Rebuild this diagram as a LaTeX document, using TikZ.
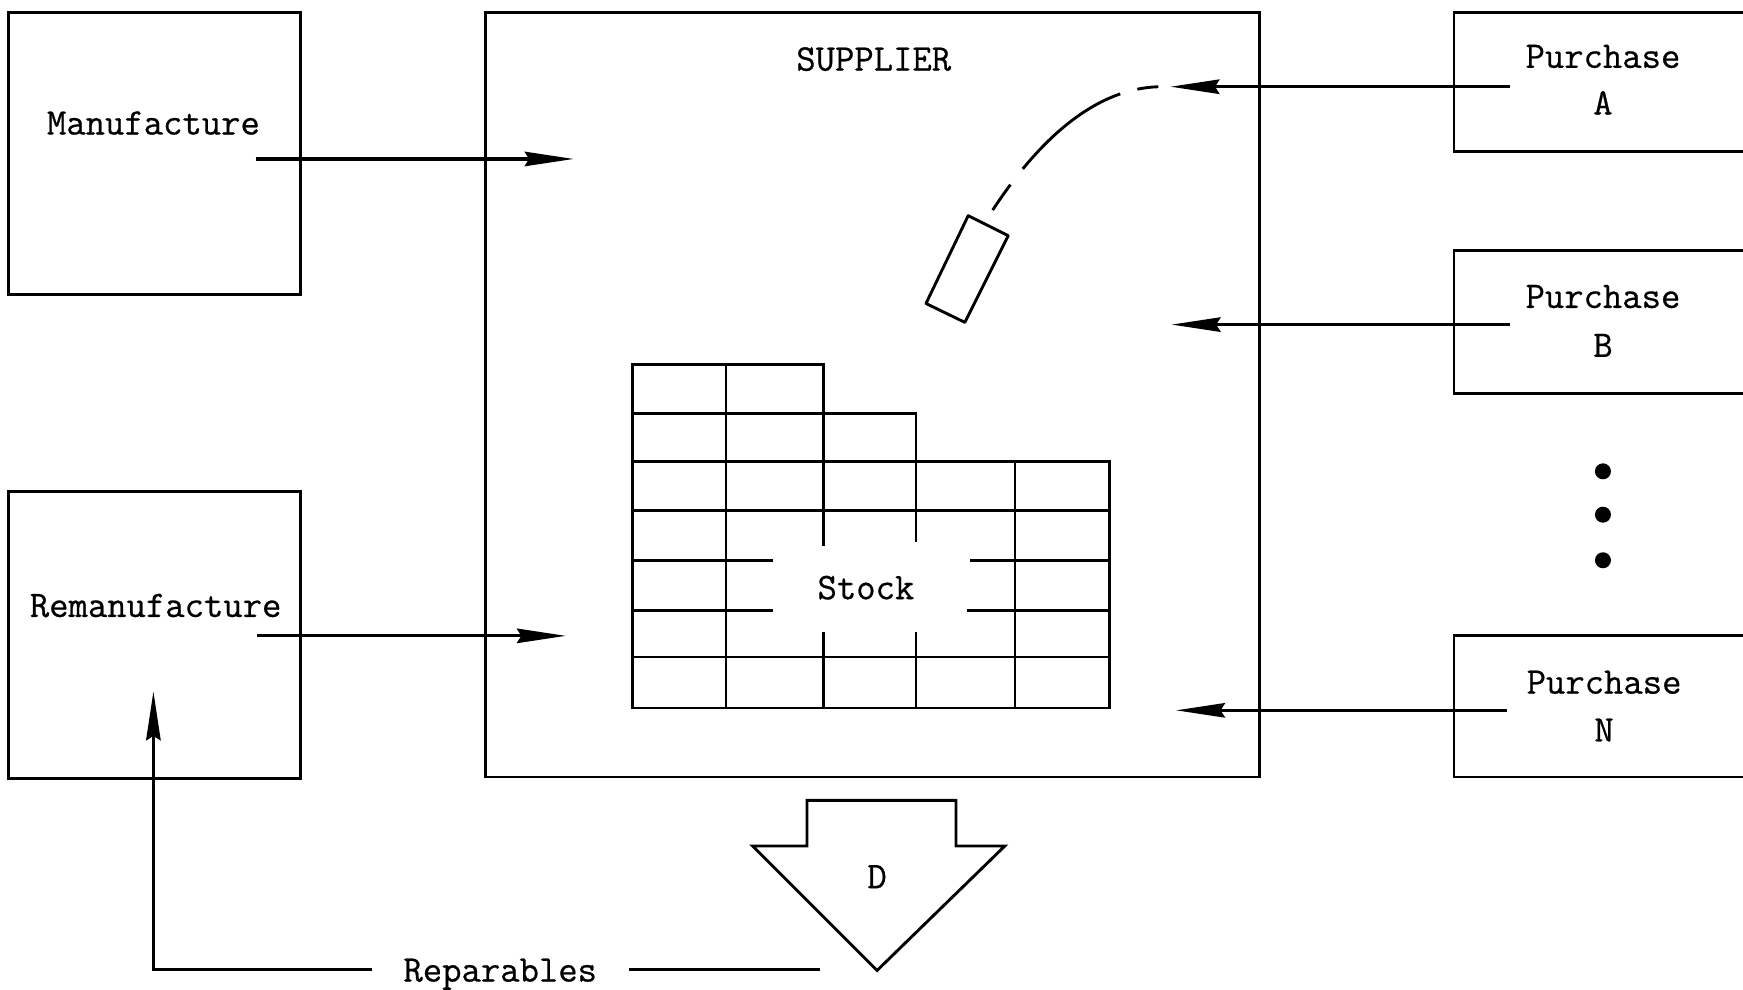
\documentclass[tikz,border=0pt]{standalone}
\usepackage{fontspec}
\newfontfamily\tw[FakeBold=0.6]{Latin Modern Mono}
\usetikzlibrary{arrows.meta}
\begin{document}
\begin{tikzpicture}[x=0.5pt,y=-0.5pt,
  ln/.style={line width=1.3pt},
  boxnode/.style={draw,line width=1.3pt,inner sep=0pt,outer sep=0pt},
  txt/.style={font=\tw\fontsize{16.9pt}{19pt}\selectfont,inner sep=0pt,anchor=base},
  arr/.style={line width=1.4pt,-{Stealth[length=22pt,width=6.5pt,inset=2pt]}},
  gridln/.style={line width=1.2pt,line cap=rect},
  dot/.style={circle,fill,inner sep=0pt,minimum size=7.2pt},
]
\useasboundingbox (0,0) rectangle (1568,890);

% main boxes
\node[boxnode,minimum width=131pt,minimum height=127pt] (mfg) at (139,138) {};
\node[boxnode,minimum width=131pt,minimum height=129pt] (remfg) at (139,571) {};
\node[boxnode,minimum width=348pt,minimum height=344pt] (sup) at (785,355) {};

\node[txt] (mfgt) at (138,121) {Manufacture};
\node[txt] (remfgt) at (140,555) {Remanufacture};
\node[txt] (supt) at (786,63.5) {SUPPLIER};

% purchase boxes (open to the right)
\draw[ln] (1568,11) -- (1308,11) -- (1308,136) -- (1568,136);
\draw[ln] (1568,225) -- (1308,225) -- (1308,354) -- (1568,354);
\draw[ln] (1568,572) -- (1308,572) -- (1308,699) -- (1568,699);
\node[txt] (pAt) at (1442,61) {Purchase};
\node[txt] (pAl) at (1442,103) {A};
\node[txt] (pBt) at (1442,277) {Purchase};
\node[txt] (pBl) at (1442,321) {B};
\node[txt] (pNt) at (1443,624) {Purchase};
\node[txt] (pNl) at (1443,667) {N};

% dots
\node[dot] (d1) at (1442,424) {};
\node[dot] (d2) at (1442,463) {};
\node[dot] (d3) at (1442,504) {};

% connector end points
\coordinate (mfgOut) at (230,143);
\coordinate (supInM) at (516,143);
\coordinate (remOut) at (231,572);
\coordinate (supInR) at (509,572);
\coordinate (pAOut) at (1358,78);
\coordinate (supInA) at (1053,78);
\coordinate (pBOut) at (1358,292);
\coordinate (supInB) at (1054,292);
\coordinate (pNOut) at (1356,639);
\coordinate (supInN) at (1058,639);

\draw[arr] (mfgOut) -- (supInM);
\draw[arr] (remOut) -- (supInR);
\draw[arr] (pAOut) -- (supInA);
\draw[arr] (pBOut) -- (supInB);
\draw[arr] (pNOut) -- (supInN);

% dashed curve and tilted box
\coordinate (cA) at (1042,78);
\coordinate (cB) at (893,189);
\draw[line width=1.3pt,dash pattern=on 9.5pt off 8pt on 56pt off 9pt on 20pt]
  (cA) .. controls (985,80) and (935,125) .. (cB);
\draw[ln,line join=round] (871,194) -- (907,212) -- (868,290) -- (833,273) -- cycle;

% stock grid
\draw[gridln] (569,328) -- (741,328);
\draw[gridln] (569,372) -- (824,372);
\draw[gridln] (569,415) -- (998,415);
\draw[gridln] (569,459) -- (998,459);
\draw[gridln] (569,504) -- (694,504);
\draw[gridln] (874,504) -- (998,504);
\draw[gridln] (569,549) -- (694,549);
\draw[gridln] (871,549) -- (998,549);
\draw[gridln] (569,591) -- (998,591);
\draw[gridln] (569,637) -- (998,637);
\draw[gridln] (569,328) -- (569,637);
\draw[gridln] (653,328) -- (653,637);
\draw[gridln] (741,328) -- (741,490);
\draw[gridln] (741,570) -- (741,637);
\draw[gridln] (824,372) -- (824,486);
\draw[gridln] (824,570) -- (824,637);
\draw[gridln] (913,415) -- (913,637);
\draw[gridln] (998,415) -- (998,637);
\node[txt] (stock) at (779,539) {Stock};

% demand arrow
\draw[ln] (726,720) -- (860,720) -- (860,761) -- (904,761) -- (789,873) -- (677,761) -- (726,761) -- cycle;
\node[txt] (D) at (789,799) {D};

% reparables
\node[txt,inner xsep=14pt] (rep) at (450,883) {Reparables};
\coordinate (repR) at (738,872);
\coordinate (repC) at (138,872);
\coordinate (remIn) at (138,622);
\draw[ln] (repR) -- (rep.east |- repR);
\draw[arr] (rep.west |- repR) -- (repC) -- (remIn);
\end{tikzpicture}
\end{document}
